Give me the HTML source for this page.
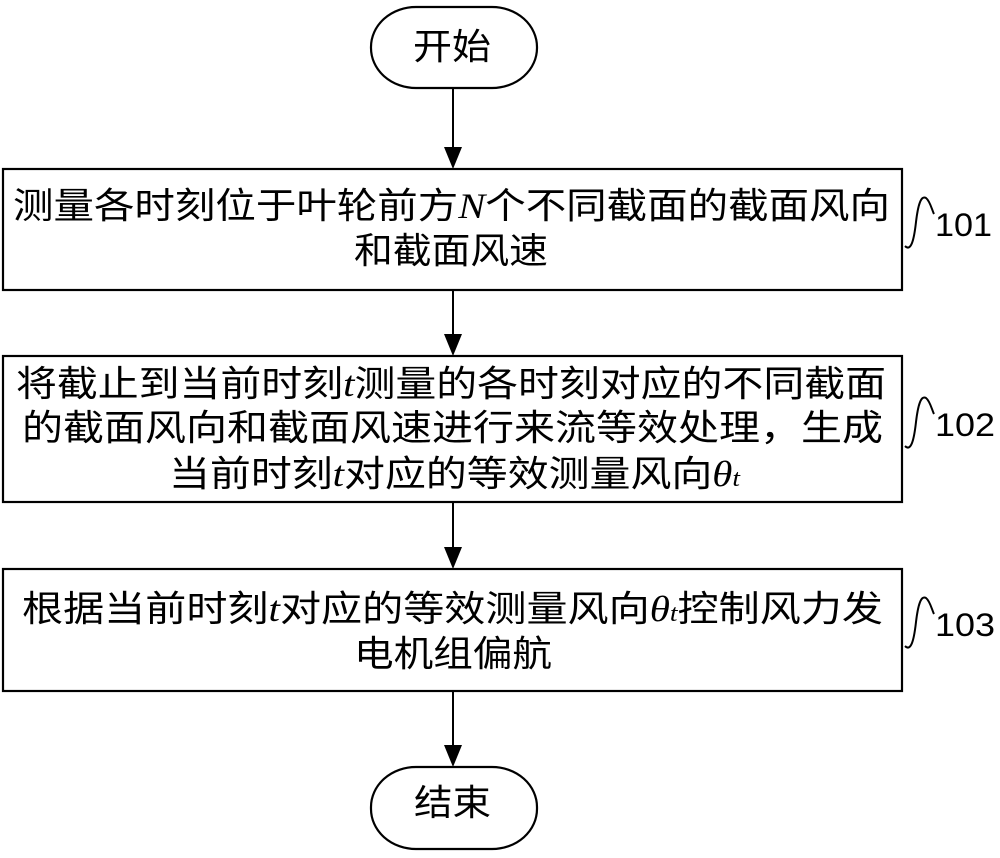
<!DOCTYPE html>
<html><head><meta charset="utf-8"><style>html,body{margin:0;padding:0;background:#fff}svg{display:block}</style></head>
<body>
<svg width="1000" height="858" viewBox="0 0 1000 858" xmlns="http://www.w3.org/2000/svg" font-family="'Liberation Sans','Noto Sans CJK SC',sans-serif" font-size="36" fill="#000">
<g fill="none" stroke="#000" stroke-width="2.2">
<rect x="371" y="7" width="166" height="81" rx="45" ry="40"/>
<rect x="371" y="767" width="166" height="82" rx="45" ry="40"/>
<rect x="3" y="169" width="899" height="121"/>
<rect x="3" y="356" width="899" height="146"/>
<rect x="3" y="569" width="899" height="122"/>
<g stroke-width="2">
<line x1="453" y1="88" x2="453" y2="150"/>
<line x1="453" y1="290" x2="453" y2="337"/>
<line x1="453" y1="502" x2="453" y2="550"/>
<line x1="453" y1="691" x2="453" y2="748"/>
<path d="M905,246 C911,252 914,240 916,222 C918,205 921,195 926,198 C930,201 932,210 934,214"/>
<path d="M905,446 C911,452 914,440 916,422 C918,405 921,395 926,398 C930,401 932,410 934,414"/>
<path d="M905,646 C911,652 914,640 916,622 C918,605 921,595 926,598 C930,601 932,610 934,614"/>
</g></g>
<g fill="#000">
<polygon points="444,147 462,147 453,169"/>
<polygon points="444,334 462,334 453,356"/>
<polygon points="444,547 462,547 453,569"/>
<polygon points="444,745 462,745 453,767"/>
</g>
<text x="413" y="59" textLength="78" lengthAdjust="spacingAndGlyphs">开始</text>
<text x="414" y="815" textLength="77" lengthAdjust="spacingAndGlyphs">结束</text>
<text x="13" y="218" textLength="877" lengthAdjust="spacingAndGlyphs">测量各时刻位于叶轮前方<tspan font-family="'Liberation Serif',serif" font-style="italic">N</tspan>个不同截面的截面风向</text>
<text x="354" y="263" textLength="194" lengthAdjust="spacingAndGlyphs">和截面风速</text>
<text x="16" y="396" textLength="870" lengthAdjust="spacingAndGlyphs">将截止到当前时刻<tspan font-family="'Liberation Serif',serif" font-style="italic">t</tspan>测量的各时刻对应的不同截面</text>
<text x="22" y="440" textLength="861" lengthAdjust="spacingAndGlyphs">的截面风向和截面风速进行来流等效处理，生成</text>
<text x="169" y="486" textLength="571" lengthAdjust="spacingAndGlyphs">当前时刻<tspan font-family="'Liberation Serif',serif" font-style="italic">t</tspan>对应的等效测量风向<tspan font-family="'Liberation Serif',serif" font-style="italic">θ<tspan font-size="24">t</tspan></tspan></text>
<text x="22" y="621" textLength="861" lengthAdjust="spacingAndGlyphs">根据当前时刻<tspan font-family="'Liberation Serif',serif" font-style="italic">t</tspan>对应的等效测量风向<tspan font-family="'Liberation Serif',serif" font-style="italic">θ<tspan font-size="24">t</tspan></tspan>控制风力发</text>
<text x="354" y="666" textLength="198" lengthAdjust="spacingAndGlyphs">电机组偏航</text>
<g font-size="32">
<text x="935" y="236" textLength="57" lengthAdjust="spacingAndGlyphs">101</text>
<text x="935" y="436" textLength="60" lengthAdjust="spacingAndGlyphs">102</text>
<text x="935" y="636" textLength="60" lengthAdjust="spacingAndGlyphs">103</text>
</g>
</svg>
</body></html>
